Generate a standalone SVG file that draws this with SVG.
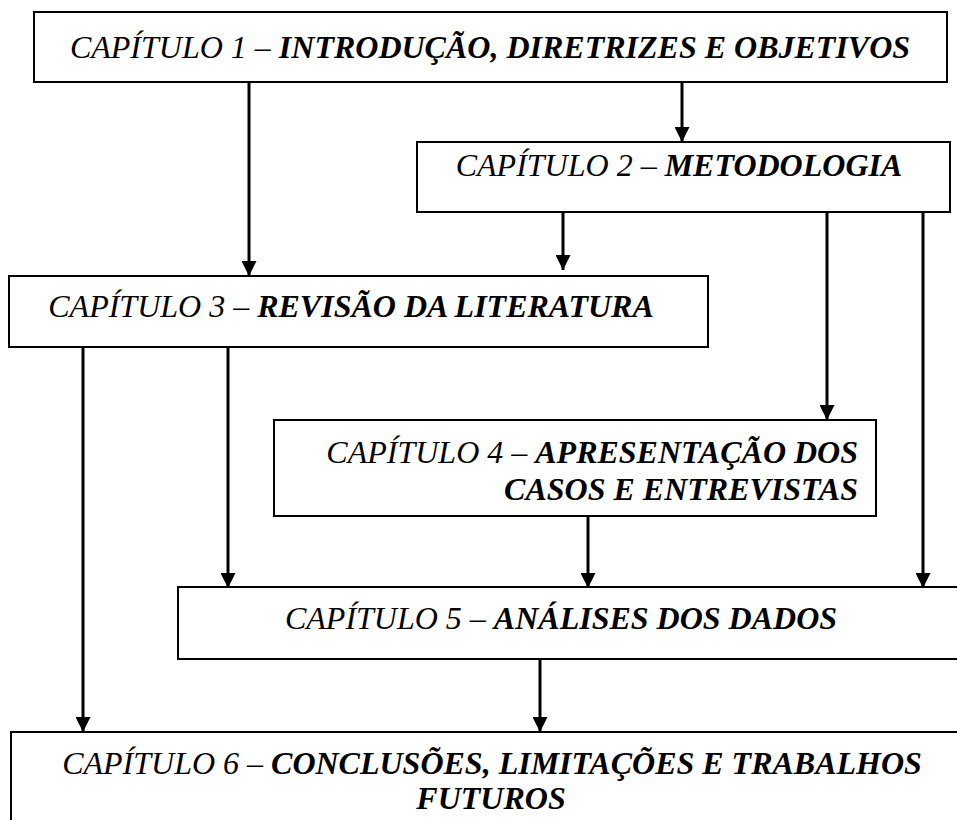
<svg xmlns="http://www.w3.org/2000/svg" width="957" height="820" viewBox="0 0 957 820">
<style>
.box{fill:#fff;stroke:#000;stroke-width:2}
.t{font-family:"Liberation Serif","Times New Roman",serif;font-size:32px;font-style:italic;fill:#000;text-anchor:middle}
.r{text-anchor:end}
.b{font-weight:bold}
.c{stroke:#000;stroke-width:3;fill:none;marker-end:url(#ah)}
</style>
<defs>
<marker id="ah" viewBox="0 0 10 10" refX="10" refY="5" markerWidth="5" markerHeight="5" markerUnits="strokeWidth" orient="auto">
<path d="M0,0 L10,5 L0,10 z" fill="#000"/>
</marker>
</defs>
<rect width="957" height="820" fill="#fff"/>
<g id="connectors">
<line class="c" x1="249" y1="82" x2="249" y2="276"/>
<line class="c" x1="682" y1="82" x2="682" y2="142"/>
<line class="c" x1="563" y1="212" x2="563" y2="270"/>
<line class="c" x1="827" y1="212" x2="827" y2="420"/>
<line class="c" x1="923" y1="212" x2="923" y2="588"/>
<line class="c" x1="83" y1="347" x2="83" y2="732"/>
<line class="c" x1="228" y1="347" x2="228" y2="588"/>
<line class="c" x1="588" y1="516" x2="588" y2="588"/>
<line class="c" x1="540" y1="659" x2="540" y2="732"/>
</g>
<g id="cap1">
<rect class="box" x="34" y="12" width="913" height="70"/>
<text class="t" x="490" y="58">CAPÍTULO 1 – <tspan class="b">INTRODUÇÃO, DIRETRIZES E OBJETIVOS</tspan></text>
</g>
<g id="cap2">
<rect class="box" x="417" y="142" width="533" height="70"/>
<text class="t" x="679" y="176">CAPÍTULO 2 – <tspan class="b">METODOLOGIA</tspan></text>
</g>
<g id="cap3">
<rect class="box" x="9" y="276" width="699" height="71"/>
<text class="t" x="351" y="317">CAPÍTULO 3 – <tspan class="b">REVISÃO DA LITERATURA</tspan></text>
</g>
<g id="cap4">
<rect class="box" x="274" y="420" width="602" height="96"/>
<text class="t r" x="858" y="463">CAPÍTULO 4 – <tspan class="b">APRESENTAÇÃO DOS</tspan></text>
<text class="t r b" x="858" y="500">CASOS E ENTREVISTAS</text>
</g>
<g id="cap5">
<rect class="box" x="178" y="587" width="800" height="72"/>
<text class="t" x="561" y="629">CAPÍTULO 5 – <tspan class="b">ANÁLISES DOS DADOS</tspan></text>
</g>
<g id="cap6">
<rect class="box" x="11" y="732" width="970" height="100"/>
<text class="t" x="492" y="774">CAPÍTULO 6 – <tspan class="b">CONCLUSÕES, LIMITAÇÕES E TRABALHOS</tspan></text>
<text class="t b" x="491" y="809">FUTUROS</text>
</g>
</svg>
